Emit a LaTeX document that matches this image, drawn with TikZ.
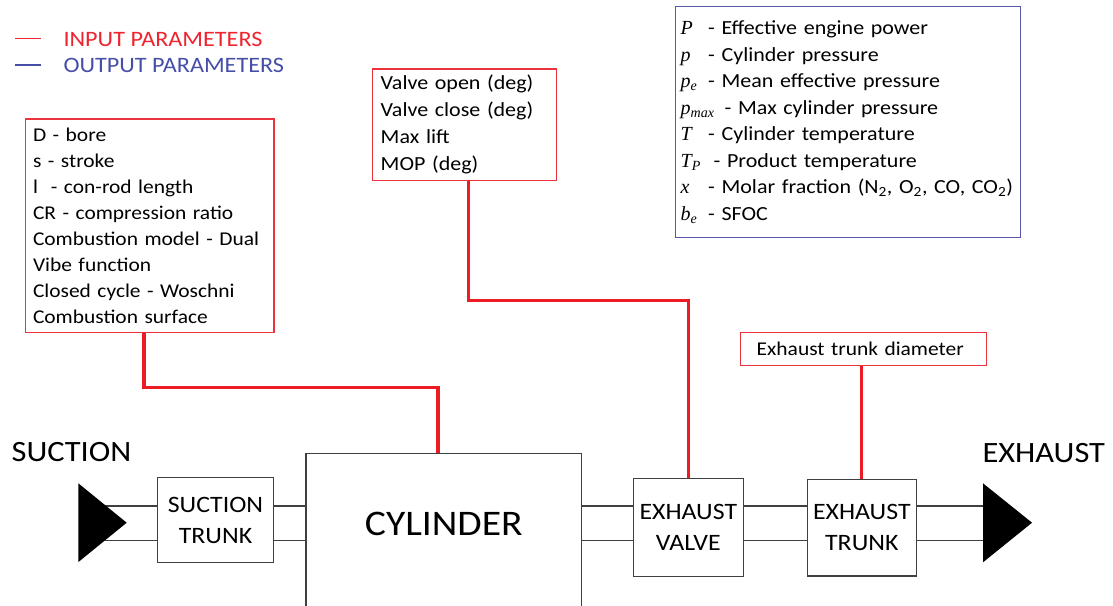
\RequirePackage{fix-cm}
\documentclass[tikz,border=0pt]{standalone}
\usepackage{fontspec}
\setmainfont{Carlito}[FakeStretch=1.1]
\newfontfamily\symfont{Liberation Serif}
\definecolor{inred}{RGB}{237,28,36}
\definecolor{boxred}{RGB}{236,50,60}
\definecolor{legred}{RGB}{238,36,46}
\definecolor{outblue}{RGB}{88,88,170}
\definecolor{legblue}{RGB}{70,78,168}
\definecolor{pipegray}{RGB}{64,64,64}
\newcommand\symbx[2][27.5pt]{\makebox[#1][l]{#2}}
\newcommand\sv[2]{{\symfont\itshape #1\textsubscript{#2}}}
\newcommand\svs[1]{{\symfont\itshape #1}}
\begin{document}
\begin{tikzpicture}[x=1pt,y=-1pt,
  inbox/.style={draw=boxred, line width=1.4pt, anchor=north west, inner ysep=0pt,
    align=left, font=\fontsize{19.5}{26}\selectfont, text=black},
  outbox/.style={draw=outblue, line width=1.4pt, anchor=north west, inner ysep=0pt,
    align=left, font=\fontsize{20}{26.5}\selectfont, text=black},
  blk/.style={draw=pipegray, line width=1.3pt, fill=white, align=center,
    font=\fontsize{23.5}{31}\selectfont, inner sep=0pt, text=black},
  biglab/.style={anchor=base west, inner sep=0pt, font=\fontsize{29.5}{34}\selectfont, text=black},
  leglab/.style={anchor=base west, inner sep=0pt, font=\fontsize{22}{26}\selectfont},
  inline/.style={draw=inred, line width=3.2pt},
  pipe/.style={draw=pipegray, line width=1.3pt}]
\fill[white] (0,0) rectangle (1113,605);
\useasboundingbox (0,0) rectangle (1113,605);
\clip (0,0) rectangle (1113,605);

% legend
\draw[legred, line width=1.5pt] (15,38.3) -- (40.7,38.3);
\node[leglab, text=legred] (legin) at (63.3,46) {INPUT PARAMETERS};
\draw[legblue, line width=1.5pt] (15,65) -- (40.7,65);
\node[leglab, text=legblue] (legout) at (63.3,72.7) {OUTPUT PARAMETERS};

% parameter boxes
\node[inbox, inner xsep=7.3pt, text width=233.7pt, minimum height=213.4pt] (inp) at (25,118.3)
  {D - bore\\ s - stroke\\ l\ \ - con-rod length\\ CR - compression ratio\\ Combustion model - Dual\\ Vibe function\\ Closed cycle - Woschni\\ Combustion surface};
\node[inbox, inner xsep=8.3pt, text width=167.7pt, minimum height=111.7pt,
  font=\fontsize{20}{27}\selectfont] (vlv) at (371.7,68.3)
  {Valve open (deg)\\ Valve close (deg)\\ Max lift\\ MOP (deg)};
\node[outbox, inner xsep=5pt, text width=334.7pt, minimum height=230.7pt] (outp) at (675,6)
  {\symbx{\svs{P}}- Effective engine power\\
   \symbx{\svs{p}}- Cylinder pressure\\
   \symbx{\sv{p}{e}}- Mean effective pressure\\
   \symbx[44pt]{\sv{p}{max}}- Max cylinder pressure\\
   \symbx{\svs{T}}- Cylinder temperature\\
   \symbx[33pt]{\sv{T}{P}}- Product temperature\\
   \symbx{\svs{x}}- Molar fraction (N\textsubscript{2}, O\textsubscript{2}, CO, CO\textsubscript{2})\\
   \symbx{\sv{b}{e}}- SFOC};
\node[inbox, inner xsep=16pt, text width=214pt, minimum height=33.3pt] (etd) at (740,331.7)
  {Exhaust trunk diameter};

% engine blocks
\coordinate (u) at (0,506);
\coordinate (l) at (0,540.5);
\coordinate (sucT) at (78.3,522.7);
\coordinate (sucIn) at (105,522.7);
\coordinate (exhT) at (983,522.7);
\coordinate (exhIn) at (995,522.7);

\node[blk, minimum width=115.6pt, minimum height=85pt] (st) at (215.5,520.2) {SUCTION\\TRUNK};
\node[blk, anchor=north west, minimum width=275.7pt, minimum height=190pt,
  font=\fontsize{36}{40}\selectfont, text height=0pt, text depth=25.4pt] (cyl) at (305.3,452.7) {CYLINDER};
\node[blk, minimum width=110pt, minimum height=98.4pt] (ev) at (688.3,527.5) {EXHAUST\\VALVE};
\node[blk, minimum width=109pt, minimum height=96.7pt] (et) at (861.8,527.7) {EXHAUST\\TRUNK};

% pipes
\foreach \r in {u,l}{
  \draw[pipe] (sucIn |- \r) -- (st.west |- \r);
  \draw[pipe] (st.east |- \r) -- (cyl.west |- \r);
  \draw[pipe] (cyl.east |- \r) -- (ev.west |- \r);
  \draw[pipe] (ev.east |- \r) -- (et.west |- \r);
  \draw[pipe] (et.east |- \r) -- (exhIn |- \r);
}

% inlet / outlet triangles
\fill[black] (sucT) ++(0,-39.4) -- ++(48.4,39.4) -- ++(-48.4,39.4) -- cycle;
\fill[black] (exhT) ++(0,-39.4) -- ++(49,39.4) -- ++(-49,39.6) -- cycle;

% labels
\node[biglab] (suclab) at (11.5,461.7) {SUCTION};
\node[biglab] (exhlab) at (982.3,462.7) {EXHAUST};

% input connectors
\draw[inline] ([xshift=-5.9pt]inp.south) -- ++(0,54) -| ([xshift=-5.9pt]cyl.north);
\draw[inline] ([xshift=4pt]vlv.south) -- ++(0,119) -| (ev.north);
\draw[inline] (et.north |- etd.south) -- (et.north);
\end{tikzpicture}
\end{document}
